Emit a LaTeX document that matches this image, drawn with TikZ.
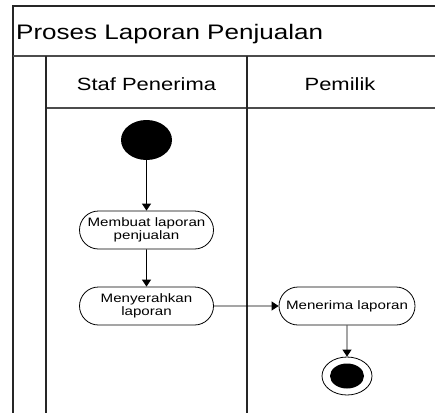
\documentclass[tikz,border=0pt]{standalone}
\usepackage{fontspec}
\setmainfont{Liberation Sans}[FakeStretch=1.24]
\usetikzlibrary{shapes.misc,shapes.geometric,arrows.meta}
\begin{document}
\begin{tikzpicture}[x=1pt,y=-1pt,
  frame/.style={line width=1.4pt,draw=black!85},
  sep/.style={line width=1.6pt,draw=black!70},
  act/.style={rounded rectangle,draw,line width=0.8pt,minimum width=134pt,minimum height=38pt,
    inner sep=0pt,align=center,font=\fontsize{12.2}{13.5}\selectfont},
  flow/.style={line width=0.9pt,-{Triangle[length=7pt,width=9pt]}},
  lanehead/.style={anchor=base,font=\fontsize{17.7}{20}\selectfont}]
\useasboundingbox (0,0) rectangle (435,412);
\fill[white] (0,0) rectangle (435,412);
% frame
\draw[frame] (13,420) -- (13,6) -- (440,6);
\draw[sep] (13,56) -- (440,56);
\draw[sep] (46,108) -- (440,108);
\draw[frame] (46,56) -- (46,420);
\draw[frame] (247,56) -- (247,420);
\node[anchor=base west,inner sep=0pt,font=\fontsize{21}{24}\selectfont] (title) at (16,40) {Proses Laporan Penjualan};
\node[lanehead,inner sep=0pt] (lane1) at (146.5,90) {Staf Penerima};
\node[lanehead,inner sep=0pt] (lane2) at (340,90) {Pemilik};
% nodes
\node[ellipse,fill=black,minimum width=51pt,minimum height=40pt,inner sep=0pt] (start) at (146.5,140) {};
\node[act] (a1) at (146.5,230) {Membuat laporan\\penjualan};
\node[act] (a2) at (146.5,306) {Menyerahkan\\laporan};
\node[act,minimum width=136pt] (a3) at (347,306) {Menerima laporan};
\node[ellipse,draw,line width=0.8pt,minimum width=50pt,minimum height=38pt,inner sep=0pt] (endo) at (347,376) {};
\node[ellipse,fill=black,minimum width=34pt,minimum height=25pt,inner sep=0pt] (endi) at (347,376) {};
% flows
\draw[flow] (start) -- (a1);
\draw[flow] (a1) -- (a2);
\draw[flow] (a2) -- (a3);
\draw[flow] (a3) -- (endo);
\end{tikzpicture}
\end{document}
